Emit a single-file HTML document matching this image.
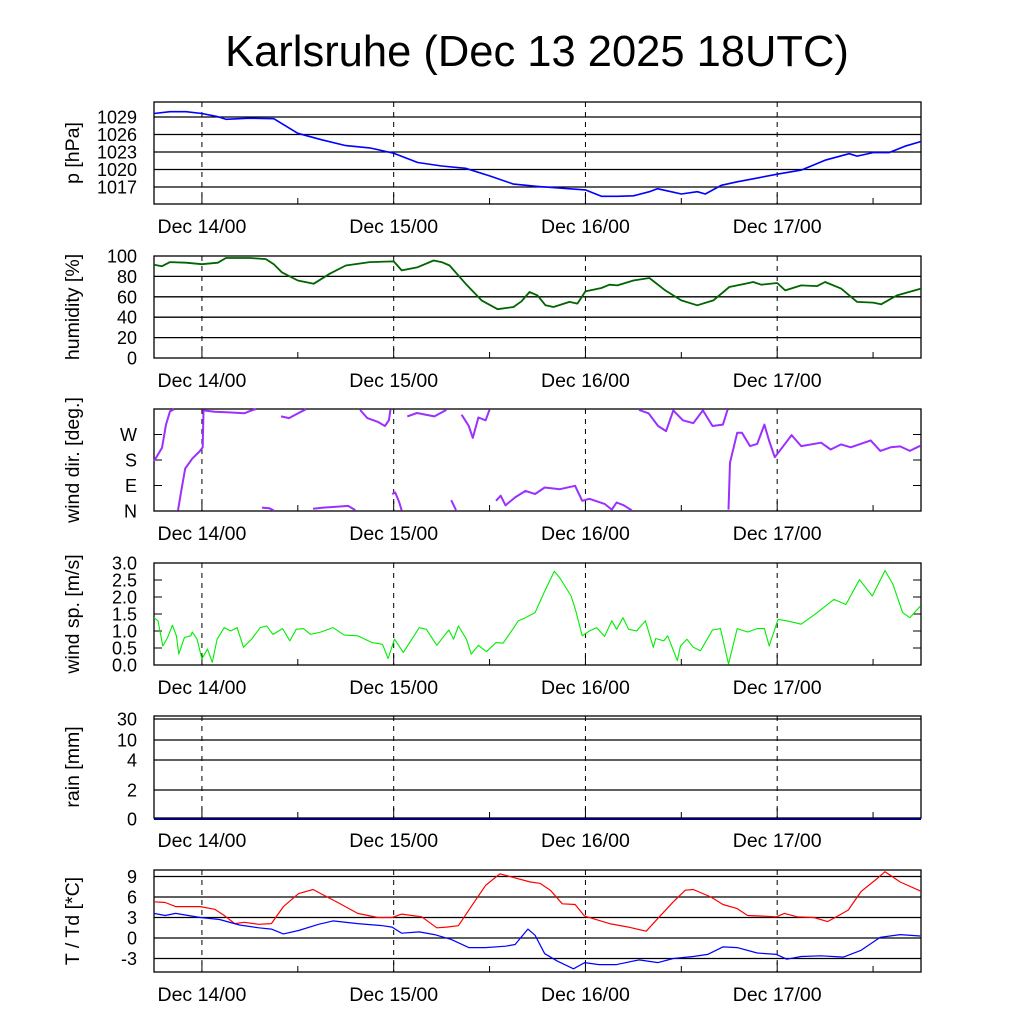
<!DOCTYPE html>
<html><head><meta charset="utf-8"><style>
body{margin:0;background:#fff}
svg{display:block;font-family:"Liberation Sans",sans-serif}
</style></head><body>
<svg id="chart" width="1024" height="1024" viewBox="0 0 1024 1024">
<text x="537" y="66" font-size="43.5" text-anchor="middle">Karlsruhe (Dec 13 2025 18UTC)</text>
</svg>
<script>
// time axis: hours since Dec 13 18UTC
const dayLabels = ["Dec 14/00","Dec 15/00","Dec 16/00","Dec 17/00"];
const dayHours = [6,30,54,78];
// pressure
const pH = [0,2,4,6,8,9,12,15,18,21,24,27,30,33,36,39,42,45,48,51,54,56,58,60,62,63,65,66,68,69,71,73,75,78,81,84,87,88,90,92,94,96];
const pV = [1029.6,1029.9,1029.9,1029.6,1029.05,1028.6,1028.8,1028.7,1026.2,1025.1,1024.1,1023.7,1022.8,1021.2,1020.6,1020.2,1018.9,1017.5,1017.1,1016.8,1016.5,1015.4,1015.4,1015.5,1016.2,1016.7,1016.1,1015.8,1016.2,1015.8,1017.3,1017.9,1018.4,1019.2,1019.9,1021.6,1022.7,1022.3,1022.9,1022.9,1024,1024.8];
// humidity
const hH = [0,1,2,4,6,8,9,12,14,15,16,18,20,22,24,27,30,31,33,35,36,37,39,41,43,45,46,47,48,49,50,52,53,54,56,57,58,60,62,64,66,68,70,72,74,75,76,78,79,81,83,84,86,88,90,91,93,96];
const hV = [91.4,90,94,93.4,92,93.4,98,98,97,92,84,76,72.8,82.6,90.7,94,94.7,85.9,89,95.6,94,90.7,72.8,56.5,47.8,50,55.6,64.7,61.4,51.7,50,55,53.3,65.3,68.6,71.9,71.2,76,78.4,66.3,56.5,51.7,56.5,69.6,72.8,74.5,71.9,73.5,66.3,71.2,70.5,74.5,68,55,54.3,52.6,61.4,68];
// wind direction
const dH = [0,1,1.5,2,2.5,3,3.4,3.9,4.8,5.7,6.1,6.2,7.6,9.4,11.3,12.2,12.8,13.5,14.4,15,15.9,16.9,18.1,19,19.9,21.2,22.4,24.3,25.2,25.8,26.7,28,28.9,29.4,29.6,29.8,30.2,30.7,31,31.7,32.9,35.1,36.6,37.2,37.8,38.5,39.4,39.9,40.6,41.5,42,42.8,43.4,44,45.2,46.5,47.7,48.9,50.8,52.7,53.6,54.5,56.4,57.3,57.9,58.8,59.8,60.7,61.9,63.1,64.1,65,66.2,67.5,68.7,69.9,71.2,71.8,71.9,72.1,73,73.6,74.6,75.5,76.4,77,77.7,78.6,79.8,81,83.5,84.7,86,87.2,89.7,90.9,92.2,93.4,94.6,95.9];
const dV = [176,223,305,352,359,2,70,150,185,210,225,355,350,348,345,355,360,12,10,2,334,328,346,359,8,12,14,18,3,357,328,315,300,320,359,60,65,30,2,334,346,334,357,38,3,340,300,258,330,320,358,36,54,20,48,71,60,83,77,89,36,43,25,5,30,20,2,357,345,300,282,355,320,310,355,300,305,359,5,171,276,276,229,237,305,247,190,223,268,229,241,217,235,225,249,212,225,228,212,230];
// wind speed
const sH = [0,0.5,1.1,1.7,2.3,2.8,3.1,3.8,4.6,4.8,5.4,6,6.7,7.3,7.9,8.8,9.6,10.4,11.2,12.2,13.3,14.1,14.9,16.1,17,17.8,18.7,19.6,20.9,22.4,23.8,25.5,27.3,28.6,29.3,30.1,31.2,33.2,34.1,35.4,36.9,37.5,38.1,39.1,39.7,40.6,41.6,42.8,43.7,44.9,45.6,46.5,47.7,48.9,50.1,50.8,52.2,52.8,53.6,54.5,55.4,56.4,57.3,57.9,58.7,59.4,60.4,61.5,62.5,62.8,63.8,64.3,65.5,65.9,66.7,67.5,68.4,69.9,70.9,71.9,73,74.3,75.5,76.4,77,78.1,79.2,81,82.9,85.1,86.6,88.3,89.9,91.5,92.5,93.7,94.6,95.9];
const sV = [1.39,1.3,0.56,0.81,1.17,0.86,0.32,0.81,0.86,0.97,0.76,0.18,0.47,0.08,0.76,1.1,1.0,1.1,0.52,0.76,1.1,1.15,0.9,1.07,0.71,1.05,1.07,0.9,0.97,1.1,0.88,0.86,0.66,0.61,0.19,0.76,0.37,1.1,1.05,0.58,1.03,0.76,1.15,0.76,0.32,0.58,0.39,0.66,0.64,1.05,1.3,1.39,1.54,2.17,2.76,2.56,2.03,1.59,0.86,1.0,1.1,0.84,1.3,1.05,1.39,1.05,1.0,1.3,0.52,0.78,0.71,0.86,0.13,0.56,0.76,0.52,0.42,1.03,1.07,0.03,1.07,0.97,1.07,1.07,0.56,1.34,1.3,1.2,1.52,1.93,1.78,2.51,2.03,2.78,2.37,1.54,1.39,1.73];
// rain
const rH = [0,96];
const rV = [0,0];
// temperature
const tH = [0,1.4,2.7,5.8,7.6,8.8,10.1,11.3,13.1,14.7,16.2,18.1,19.9,21.2,23,25.5,28,29.8,31,33.5,35.4,36.6,38.1,39.7,41.5,43.3,45.2,47.1,48.3,49.6,51.1,52.7,53.9,57,59.4,61.6,63.1,65,66.5,67.5,69.7,71.2,73,74.3,76.2,77.9,78.9,80.5,82.6,84.3,85.7,86.9,88.5,90.3,91.5,93.4,95.9];
const tV = [5.3,5.2,4.6,4.6,4.2,3.3,2.1,2.3,2.0,2.1,4.6,6.5,7.1,6.3,5.2,3.6,3.0,3.0,3.5,3.1,1.5,1.6,1.8,4.6,7.7,9.4,8.8,8.2,8.0,7.0,5.0,4.9,3.2,2.1,1.6,1.0,2.9,5.3,7.0,7.1,6.0,4.9,4.3,3.3,3.2,3.1,3.6,3.1,3.0,2.4,3.3,4.1,6.8,8.5,9.7,8.2,6.9];
// dew point
const tdH = [0,1.4,2.7,5.8,8.2,10.7,13.1,14.7,16.2,18.1,20.6,22.4,25.5,28.6,29.8,31,33.2,35.1,37.2,39.4,41.5,44,45.2,46.8,47.7,48.9,50.5,52.5,53.9,55.7,57.9,60.7,63.1,65,67.5,69.3,71.2,73,75.5,77.9,79.2,81,83.5,86.3,88.5,90.9,93.4,95.9];
const tdV = [3.6,3.3,3.6,3.0,2.7,1.9,1.5,1.3,0.6,1.1,2.0,2.5,2.1,1.8,1.6,0.7,0.9,0.5,-0.2,-1.4,-1.4,-1.2,-0.95,1.3,0.4,-2.3,-3.4,-4.5,-3.6,-3.9,-3.9,-3.2,-3.6,-3.0,-2.7,-2.4,-1.3,-1.4,-2.2,-2.4,-3.1,-2.7,-2.6,-2.8,-1.8,0.1,0.5,0.3];

const NS = "http://www.w3.org/2000/svg";
const svg = document.getElementById("chart");
const X0 = 154, X1 = 921;
function xs(h){ return X0 + h*(X1-X0)/96; }
function mk(tag, attrs, parent){ const e=document.createElementNS(NS,tag); for(const k in attrs) e.setAttribute(k,attrs[k]); (parent||svg).appendChild(e); return e; }

const panels = [
 {name:"pressure", top:102, title:"p [hPa]", ys:v=>117+(1029-v)*70/12, ticks:[[1029,"1029"],[1026,"1026"],[1023,"1023"],[1020,"1020"],[1017,"1017"]], grid:true},
 {name:"humidity", top:256, title:"humidity [%]", ys:v=>358-v*1.02, ticks:[[100,"100"],[80,"80"],[60,"60"],[40,"40"],[20,"20"],[0,"0"]], grid:true},
 {name:"wind-direction", top:409, title:"wind dir. [deg.]", ys:v=>511-v*102/360, ticks:[[270,"W"],[180,"S"],[90,"E"],[0,"N"]], grid:false},
 {name:"wind-speed", top:563, title:"wind sp. [m/s]", ys:v=>665-v*34, ticks:[[3,"3.0"],[2.5,"2.5"],[2,"2.0"],[1.5,"1.5"],[1,"1.0"],[0.5,"0.5"],[0,"0.0"]], grid:false},
 {name:"rain", top:716, title:"rain [mm]", ys:v=>819-v, ticks:[[100,"30"],[79,"10"],[59,"4"],[29,"2"],[0,"0"]], grid:true},
 {name:"temperature", top:870, title:"T / Td [*C]", ys:v=>938-v*20.5/3, ticks:[[9,"9"],[6,"6"],[3,"3"],[0,"0"],[-3,"-3"]], grid:true}
];
const H = 102;

panels.forEach(p=>{
  const g = mk("g",{});
  
  
  const bottom = p.top+H;
  p.ticks.forEach(t=>{
    const y = p.ys(t[0]);
    if(p.grid && y>p.top+1 && y<bottom-1){
      const gl = mk("line",{x1:X0,x2:X1,y1:y,y2:y,stroke:"#000","stroke-width":1.3},g);
      
      
    } else {
      mk("line",{x1:X0,x2:X0+8,y1:y,y2:y,stroke:"#000"},g);
      mk("line",{x1:X1-8,x2:X1,y1:y,y2:y,stroke:"#000"},g);
    }
    const tl = mk("text",{x:X0-17,y:y+6.5,"font-size":18,"text-anchor":"end"},g);
    tl.textContent = t[1];
    
    
  });
  dayHours.forEach((h,i)=>{
    const x = xs(h);
    mk("line",{x1:x,x2:x,y1:p.top,y2:bottom,stroke:"#000","stroke-dasharray":"5,5"},g);
    mk("line",{x1:x,x2:x,y1:bottom-10,y2:bottom,stroke:"#000"},g);
    mk("line",{x1:xs(h+12),x2:xs(h+12),y1:bottom-6,y2:bottom,stroke:"#000"},g);
    const dl = mk("text",{x:x,y:bottom+29,"font-size":19.5,"text-anchor":"middle"},g);
    dl.textContent = dayLabels[i];
    
    
  });
  const fr = mk("rect",{x:X0,y:p.top,width:X1-X0,height:H,fill:"none",stroke:"#000","stroke-width":1.3},g);
  
  
  const ty = p.top+H/2;
  const tt = mk("text",{x:0,y:0,"font-size":19.5,"text-anchor":"middle",transform:`translate(79,${ty}) rotate(-90)`},g);
  tt.textContent = p.title;
  
  
  p.g = g;
});

function series(p, hs, vs, color, width, name, wrap){
  let d = "";
  for(let i=0;i<hs.length;i++){
    const x = xs(hs[i]).toFixed(1), y = p.ys(vs[i]).toFixed(1);
    if(i===0 || (wrap && Math.abs(vs[i]-vs[i-1])>180)) d += `M${x},${y}`;
    else d += `L${x},${y}`;
  }
  const path = mk("path",{d:d,fill:"none",stroke:color,"stroke-width":width,"stroke-linejoin":"round"},p.g);
  
  
}
series(panels[0], pH, pV, "#0000ff", 1.6, "pressure-line");
series(panels[1], hH, hV, "#006400", 1.8, "humidity-line");
series(panels[2], dH, dV, "#9b30ff", 2, "wind-direction-line", true);
series(panels[3], sH, sV, "#00ee00", 1.1, "wind-speed-line");
series(panels[4], rH, rV, "#000080", 2, "rain-line");
series(panels[5], tH, tV, "#ff0000", 1.2, "temperature-line");
series(panels[5], tdH, tdV, "#0000ff", 1.2, "dewpoint-line");
</script>
</body></html>
